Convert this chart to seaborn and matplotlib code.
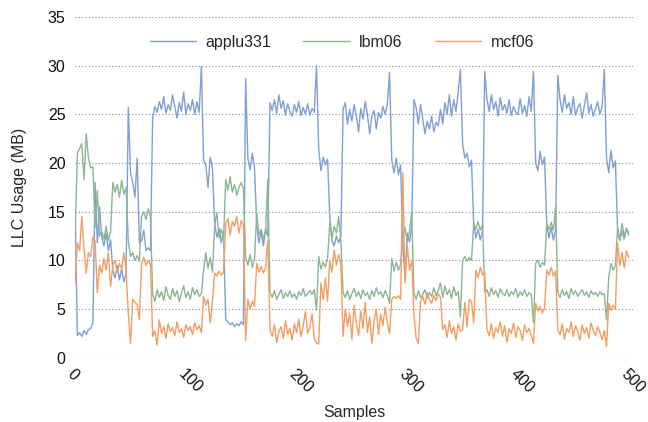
import numpy as np
import pandas as pd
import seaborn as sns
import matplotlib.pyplot as plt

# one reading every 2 samples, 0..500
samples = np.arange(0, 501, 2)

applu331 = [
    15.0, 2.3, 2.6, 2.2, 2.8, 2.4, 2.9, 3.0, 3.6, 18.0,
    11.8, 15.5, 12.4, 11.5, 12.8, 11.0, 12.1, 9.0, 8.2, 9.5,
    8.0, 9.2, 7.8, 8.7, 25.7, 19.0, 18.0, 16.5, 20.5, 11.8,
    12.0, 13.1, 11.0, 11.3, 11.0, 24.7, 25.8, 25.2, 26.3, 25.5,
    26.8, 25.1, 26.0, 25.4, 27.0, 25.8, 24.6, 26.2, 25.3, 27.3,
    25.0, 26.1, 25.4, 26.5, 25.0, 26.3, 25.2, 29.9, 20.3, 19.8,
    17.5, 20.6, 19.5, 13.8, 12.4, 13.3, 11.8, 13.0, 3.9, 3.7,
    3.4, 3.6, 3.2, 3.5, 3.3, 3.7, 3.4, 28.7, 20.5, 19.3,
    21.0, 19.5, 13.8, 11.8, 12.9, 11.5, 13.2, 12.5, 26.2, 25.4,
    26.5, 25.1, 27.0, 25.6, 26.4, 24.9, 26.1, 25.3, 24.8, 26.0,
    25.2, 26.3, 24.9, 25.7, 25.0, 26.1, 24.9, 25.6, 25.2, 30.0,
    21.5, 19.2, 20.6, 19.8, 20.4, 14.5, 12.0, 11.5, 12.5, 11.8,
    12.5, 25.5, 26.2, 24.0, 25.5, 24.3, 26.0, 24.8, 23.2, 25.6,
    24.5, 26.3, 25.0, 23.0, 24.8, 25.4, 23.5, 25.2, 24.6, 25.8,
    25.0, 26.0, 29.3, 20.3, 19.0, 20.5, 18.8, 19.8, 11.5, 8.2,
    12.8, 11.9, 13.4, 26.5, 25.7, 24.0, 26.0, 24.5, 23.0, 24.3,
    23.5, 24.8, 23.2, 24.2, 23.8, 25.5, 24.0, 26.2, 25.0, 27.0,
    24.8, 26.5, 25.3, 27.3, 29.6, 22.0, 20.5, 21.0, 19.6, 20.3,
    13.8, 12.3, 13.2, 12.1, 13.0, 29.4, 26.5, 25.3, 27.0, 25.5,
    26.3, 24.8, 26.7, 25.4, 26.0, 25.1, 26.5, 24.9, 25.8, 25.2,
    25.0, 26.6, 25.1, 25.9, 24.8, 26.8, 25.3, 29.4, 20.0, 19.2,
    21.2, 19.8, 20.6, 13.8, 12.3, 13.4, 12.1, 13.1, 29.0, 26.5,
    25.2, 27.0, 25.6, 26.2, 25.0, 26.8, 24.9, 25.7, 26.1, 24.6,
    25.9, 27.2, 25.1, 26.0, 24.8, 25.6, 26.3, 25.0, 25.8, 29.6,
    20.5, 19.0, 21.3, 19.5, 20.2, 13.1, 12.1, 13.0, 12.2, 13.3,
    12.6,
]

lbm06 = [
    13.0, 21.0, 21.5, 22.0, 18.3, 23.0, 20.5, 19.5, 19.6, 13.4,
    17.2, 12.5, 13.0, 12.2, 13.5, 12.0, 13.0, 18.0, 17.0, 17.8,
    16.5, 18.2, 16.8, 17.5, 12.0, 10.4, 10.8, 10.0, 10.5, 9.9,
    14.5, 15.0, 14.2, 15.3, 14.5, 6.5, 5.8, 7.0, 6.2, 6.8,
    5.9, 7.3, 6.4, 6.0, 7.1, 6.3, 6.9, 5.8, 6.6, 7.4,
    6.2, 6.8, 6.0, 7.2, 6.5, 7.0, 6.3, 6.6, 9.0, 10.8,
    9.2, 10.3, 8.8, 13.5, 14.9, 12.3, 13.2, 12.1, 18.3, 17.2,
    18.6, 17.0, 17.8, 16.7, 17.5, 18.0, 17.3, 10.4, 9.5, 10.6,
    9.3, 10.1, 14.9, 12.6, 13.2, 12.2, 13.0, 18.3, 6.7, 6.2,
    6.9, 6.0, 6.5, 7.0, 6.1, 6.7, 6.3, 6.9, 6.2, 6.6,
    6.0, 6.8, 6.4, 7.1, 6.3, 6.6, 6.9, 6.5, 7.0, 4.9,
    10.4, 9.1, 9.8, 9.3, 10.2, 13.8, 12.3, 13.5, 12.8, 14.5,
    12.0, 6.7, 6.2, 6.9, 6.0, 6.6, 7.1, 6.3, 6.8, 6.1,
    7.0, 6.4, 6.7, 6.0, 6.9, 6.3, 7.2, 6.5, 6.8, 6.2,
    6.9, 6.4, 5.6, 10.2, 8.9, 9.8, 9.0, 9.6, 12.5, 13.4,
    11.9, 13.0, 14.9, 6.6, 6.0, 6.9, 6.2, 6.5, 7.0, 6.1,
    6.7, 6.3, 7.2, 6.4, 6.9, 7.7, 6.2, 7.4, 6.5, 7.0,
    6.1, 7.3, 6.4, 6.8, 4.2, 10.0, 10.4, 9.9, 10.3, 10.0,
    13.8, 13.2, 14.0, 13.1, 13.7, 6.7, 7.0, 6.3, 7.2, 6.5,
    6.9, 6.2, 7.1, 6.6, 6.4, 7.0, 6.3, 6.8, 6.5, 7.1,
    6.2, 6.8, 6.4, 7.0, 6.3, 6.7, 6.5, 3.6, 9.7, 10.0,
    9.3, 9.8, 9.5, 13.8, 13.2, 13.9, 13.1, 15.5, 6.7, 6.2,
    7.0, 6.4, 6.8, 6.1, 7.1, 6.5, 6.9, 6.3, 6.7, 7.0,
    6.4, 6.8, 6.2, 6.9, 6.5, 6.7, 6.3, 6.8, 6.5, 6.6,
    3.9, 8.3, 9.7, 9.0, 9.5, 13.4, 12.0, 13.8, 12.5, 13.2,
    12.9,
]

mcf06 = [
    7.7, 11.8, 11.0, 14.5, 11.2, 8.7, 10.8, 10.4, 12.4, 12.0,
    6.7, 9.5, 8.7, 10.2, 9.0, 10.8, 7.3, 9.5, 10.0, 8.8,
    9.7, 9.2, 10.8, 9.0, 4.5, 1.5, 6.0, 5.7, 5.5, 3.9,
    9.7, 10.3, 9.5, 10.0, 9.6, 2.2, 2.8, 1.3, 3.9, 2.5,
    3.2, 2.0, 3.5, 2.7, 3.1, 2.3, 3.7, 2.6, 3.0, 2.1,
    3.4, 2.8, 3.2, 2.4, 3.6, 2.9, 3.3, 2.6, 6.3, 5.4,
    6.0, 3.6, 5.8, 8.7, 8.4, 8.9, 8.5, 8.8, 13.8, 14.3,
    12.6, 14.0, 13.5, 14.5, 12.8, 14.1, 13.6, 1.8, 6.0, 5.0,
    5.8, 5.3, 9.7, 8.8, 9.4, 8.7, 9.2, 12.1, 2.9, 2.2,
    3.4, 1.6, 2.7, 3.2, 2.0, 3.8, 2.4, 3.0, 1.8, 3.5,
    2.6, 4.0, 2.2, 3.3, 4.8, 2.5, 3.1, 4.5, 2.0, 1.5,
    1.4, 7.7, 6.0, 8.2, 5.8, 10.0, 8.8, 11.1, 9.5, 10.6,
    9.7, 2.2, 5.0, 3.2, 4.6, 1.9, 5.4, 3.5, 2.3, 4.8,
    3.0, 5.7, 2.6, 4.2, 1.5, 3.8, 5.0, 2.4, 4.5, 3.3,
    5.2, 3.6, 2.5, 6.0, 6.3, 6.1, 6.4, 6.0, 19.0, 7.7,
    11.5, 9.0, 10.0, 4.5, 2.0, 1.5, 5.8, 6.3, 5.5, 6.7,
    6.0, 5.6, 6.4, 5.9, 6.6, 6.2, 2.9, 3.4, 2.1, 3.8,
    2.5, 3.2, 1.8, 3.5, 2.7, 2.9, 5.7, 3.2, 6.0, 5.8,
    3.6, 9.0, 8.2, 9.3, 8.5, 8.8, 2.9, 2.3, 3.5, 2.0,
    3.1, 2.6, 3.7, 2.2, 3.3, 1.6, 3.0, 2.5, 3.6, 2.1,
    3.2, 2.8, 1.8, 3.4, 2.6, 3.0, 2.3, 1.5, 5.6, 4.8,
    5.3, 4.6, 5.1, 9.0, 8.5, 9.3, 8.4, 8.9, 2.9, 2.4,
    3.5, 1.9, 3.0, 2.6, 3.7, 2.2, 3.3, 2.7, 1.8, 3.4,
    2.5, 3.1, 2.0, 3.6, 2.8, 2.3, 3.2, 2.6, 1.9, 2.8,
    1.2, 5.6, 4.9, 5.4, 5.0, 11.8, 9.5, 10.8, 9.2, 11.0,
    10.3,
]

colors = ['#7f9fd6', '#8cb594', '#f59d62']

df = pd.DataFrame({'Samples': samples, 'applu331': applu331,
                   'lbm06': lbm06, 'mcf06': mcf06})
long = df.melt(id_vars='Samples', var_name='benchmark', value_name='LLC')

sns.set_theme(style='white')
plt.rcParams['font.family'] = ['Liberation Sans', 'DejaVu Sans']

fig, ax = plt.subplots(figsize=(6.48, 4.22), dpi=100)
fig.subplots_adjust(left=0.116, right=0.977, bottom=0.152, top=0.96)

sns.lineplot(data=long, x='Samples', y='LLC', hue='benchmark',
             palette=colors, estimator=None, linewidth=1.0, ax=ax)

ax.set_xlim(0, 504)
ax.set_ylim(0, 35)
ax.set_yticks(range(0, 36, 5))
ax.set_xticks(range(0, 501, 100))
ax.yaxis.grid(True, linestyle=(0, (1, 2)), color='#8a8a8a', linewidth=0.8)
ax.xaxis.grid(False)
sns.despine(left=True, bottom=True)
ax.tick_params(length=0, labelsize=11.5, colors='#111111')
ax.tick_params(axis='y', pad=7)
ax.tick_params(axis='x', pad=6)
plt.setp(ax.get_xticklabels(), rotation=-45, ha='left', va='top',
         rotation_mode='anchor')

ax.set_xlabel('Samples', fontsize=11.5, labelpad=7)
ax.set_ylabel('LLC Usage (MB)', fontsize=11.5, labelpad=15)

ax.legend(loc='upper center', bbox_to_anchor=(0.478, 0.99), ncol=3,
          frameon=False, handlelength=2.9, handletextpad=0.6,
          columnspacing=2.0, fontsize=11.5)

fig.savefig('out.png', dpi=100)
